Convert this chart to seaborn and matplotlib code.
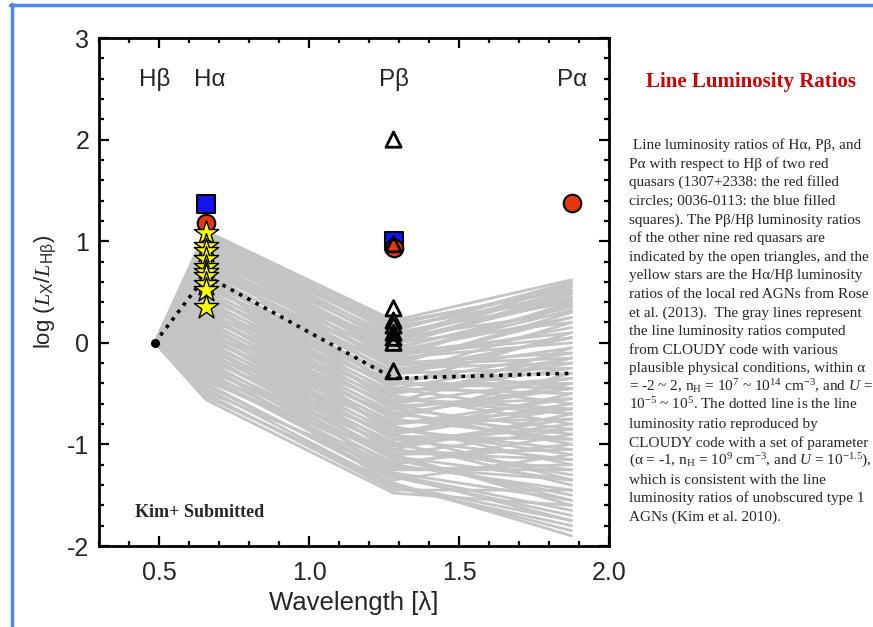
import numpy as np
import pandas as pd
import matplotlib
matplotlib.use("Agg")
import matplotlib.pyplot as plt
from matplotlib.lines import Line2D
from matplotlib.ticker import MultipleLocator
import seaborn as sns

# rest wavelengths (micron) of the four lines
line_names = ["Hβ", "Hα", "Pβ", "Pα"]
line_waves = [0.4861, 0.6563, 1.2818, 1.8751]

# CLOUDY model grid (log L/LHb), one entry per model
cloudy_ha = [1.10, 1.08, 1.05, 1.02, 1.00, 0.98, 0.95, 0.92, 0.90, 0.88,
             0.85, 0.82, 0.80, 0.78, 0.75, 0.72, 0.70, 0.68, 0.65, 0.62,
             0.60, 0.58, 0.55, 0.52, 0.50, 0.48, 0.45, 0.42, 0.40, 0.38,
             0.35, 0.32, 0.30, 0.28, 0.25, 0.22, 0.20, 0.18, 0.15, 0.12,
             0.10, 0.08, 0.05, 0.02, 0.00, -0.02, -0.05, -0.08, -0.10, -0.12,
             -0.15, -0.18, -0.20, -0.22, -0.25, -0.28, -0.30, -0.33, -0.36, -0.40,
             -0.45, -0.50, -0.53, -0.56,
             1.06, 1.03, 0.99, 0.96, 0.93, 0.91, 0.87, 0.84, 0.81, 0.77,
             0.74, 0.71, 0.66, 0.63, 0.57, 0.53, 0.47, 0.43, 0.37, 0.33,
             0.27, 0.23, 0.17, 0.13, 0.07, 0.03, -0.03, -0.07, -0.13, -0.17,
             -0.23, -0.27, -0.32, -0.38, -0.42, -0.48, -0.52, 0.60, 0.80, 0.40,
             0.20, 0.00, -0.20, 1.00]
cloudy_pb = [0.22, 0.18, 0.15, 0.10, 0.05, 0.12, 0.00, -0.05, 0.08, -0.10,
             -0.02, -0.15, -0.08, -0.20, -0.12, -0.25, -0.18, -0.30, -0.22, -0.35,
             -0.28, -0.40, -0.32, -0.45, -0.38, -0.50, -0.42, -0.55, -0.48, -0.60,
             -0.52, -0.65, -0.58, -0.70, -0.62, -0.75, -0.68, -0.80, -0.72, -0.85,
             -0.78, -0.90, -0.82, -0.95, -0.88, -1.00, -0.92, -1.05, -0.98, -1.10,
             -1.02, -1.15, -1.08, -1.20, -1.12, -1.25, -1.18, -1.30, -1.22, -1.35,
             -1.40, -1.45, -1.38, -1.48,
             0.20, 0.12, 0.16, 0.06, 0.02, -0.12, 0.04, -0.06, -0.22, 0.00,
             -0.30, -0.10, -0.40, -0.15, -0.45, -0.20, -0.55, -0.30, -0.65, -0.40,
             -0.75, -0.50, -0.85, -0.60, -0.95, -0.70, -1.05, -0.80, -1.12, -0.90,
             -1.20, -1.00, -1.28, -1.10, -1.32, -1.25, -1.42, -0.60, -0.45, -0.90,
             -1.10, -1.30, -1.40, -0.25]
cloudy_pa = [0.62, 0.55, 0.48, 0.40, 0.30, 0.58, 0.20, 0.35, 0.50, 0.10,
             0.45, 0.00, 0.25, -0.10, 0.38, -0.20, 0.15, -0.05, 0.30, -0.30,
             0.05, -0.45, 0.20, -0.15, -0.60, -0.25, 0.10, -0.70, -0.35, -0.05,
             -0.80, -0.45, -0.15, -0.90, -0.55, -0.30, -1.00, -0.65, -0.40, -1.10,
             -0.75, -0.50, -1.20, -0.85, -0.60, -1.30, -0.95, -0.70, -1.40, -1.05,
             -0.80, -1.50, -1.15, -0.90, -1.55, -1.25, -1.00, -1.65, -1.35, -1.10,
             -1.75, -1.45, -1.90, -1.60,
             0.52, 0.60, 0.44, 0.56, 0.42, 0.05, 0.52, 0.36, -0.15, 0.48,
             -0.25, 0.32, -0.40, 0.40, -0.50, 0.25, -0.65, 0.05, -0.85, -0.10,
             -0.95, -0.20, -1.05, -0.35, -1.15, -0.45, -1.25, -0.55, -1.35, -0.65,
             -1.45, -0.75, -1.55, -0.85, -1.70, -1.20, -1.80, -1.00, -0.70, -1.35,
             -1.60, -1.75, -1.85, -0.45]

# best-match CLOUDY model (dotted)
dotted_ratio = [0.0, 0.66, -0.35, -0.30]

# observed ratios
red_circle_waves = [0.6563, 1.2818, 1.8751]
red_circle_ratio = [1.18, 0.93, 1.38]
blue_square_waves = [0.6563, 1.2818]
blue_square_ratio = [1.37, 1.00]
triangle_ratio = [2.00, 0.97, 0.34, 0.22, 0.17, 0.10, 0.05, 0.00, -0.28]
star_ratio = [1.08, 0.95, 0.90, 0.82, 0.75, 0.70, 0.66, 0.58, 0.52, 0.35]

caption_title = "Line Luminosity Ratios"
caption_lines = [
    " Line luminosity ratios of Hα, Pβ, and",
    "Pα with respect to Hβ of two red",
    "quasars (1307+2338: the red filled",
    "circles; 0036-0113: the blue filled",
    "squares). The Pβ/Hβ luminosity ratios",
    "of the other nine red quasars are",
    "indicated by the open triangles, and the",
    "yellow stars are the Hα/Hβ luminosity",
    "ratios of the local red AGNs from Rose",
    "et al. (2013).  The gray lines represent",
    "the line luminosity ratios computed",
    "from CLOUDY code with various",
    "plausible physical conditions, within α",
    r"= -2 ~ 2, n$_{H}$ = 10$^{7}$ ~ 10$^{14}$ cm$^{-3}$, and $\mathit{U}$ =",
    r"10$^{-5}$ ~ 10$^{5}$. The dotted line is the line",
    "luminosity ratio reproduced by",
    "CLOUDY code with a set of parameter",
    r"(α = -1, n$_{H}$ = 10$^{9}$ cm$^{-3}$, and $\mathit{U}$ = 10$^{-1.5}$),",
    "which is consistent with the line",
    "luminosity ratios of unobscured type 1",
    "AGNs (Kim et al. 2010).",
]

# long-form table for seaborn
rows = []
for i in range(len(cloudy_ha)):
    vals = [0.0, cloudy_ha[i], cloudy_pb[i], cloudy_pa[i]]
    for w, v in zip(line_waves, vals):
        rows.append({"model": i, "wavelength": w, "ratio": v})
models = pd.DataFrame(rows)

sns.set_style("ticks")
plt.rcParams["font.family"] = ["Liberation Sans", "DejaVu Sans"]
plt.rcParams["mathtext.fontset"] = "custom"
plt.rcParams["mathtext.rm"] = "Liberation Serif"
plt.rcParams["mathtext.it"] = "Liberation Serif:italic"
plt.rcParams["mathtext.sf"] = "Liberation Sans"
plt.rcParams["mathtext.default"] = "regular"
plt.rcParams["axes.unicode_minus"] = False

fig = plt.figure(figsize=(8.73, 6.27), dpi=100)
ax = fig.add_axes([99 / 873, 1 - 546 / 627, 510 / 873, 508 / 627])

sns.lineplot(data=models, x="wavelength", y="ratio", units="model",
             estimator=None, sort=False, color="#c4c4c4", lw=2.0,
             legend=False, ax=ax, zorder=1)
ax.plot(line_waves, dotted_ratio, color="black", lw=2.6,
        linestyle=(0, (1, 1.6)), zorder=3)
ax.scatter([line_waves[0]], [0.0], s=30, color="black", zorder=4)

ax.scatter(blue_square_waves, blue_square_ratio, marker="s", s=150,
           color="#1414f0", edgecolor="black", lw=1.5, zorder=5)
ax.scatter(red_circle_waves, red_circle_ratio, marker="o", s=160,
           color="#e8360c", edgecolor="black", lw=1.5, zorder=6)
ax.scatter([line_waves[1]] * len(star_ratio), star_ratio, marker="*", s=340,
           color="#ffff00", edgecolor="black", lw=1.0, zorder=7)
ax.scatter([line_waves[2]] * len(triangle_ratio), triangle_ratio, marker="^",
           s=120, facecolor="none", edgecolor="black", lw=2.0, zorder=8)

label_x = [0.487, 0.668, 1.282, 1.877]
for name, lx in zip(line_names, label_x):
    ax.text(lx, 2.59, name, ha="center", va="center", fontsize=17.5)

ax.text(0.42, -1.675, "Kim+ Submitted", fontsize=13, fontweight="bold",
        family="Liberation Serif", va="center")

ax.set_xlim(0.3, 2.0)
ax.set_ylim(-2, 3)
ax.xaxis.set_major_locator(MultipleLocator(0.5))
ax.xaxis.set_minor_locator(MultipleLocator(0.1))
ax.yaxis.set_major_locator(MultipleLocator(1))
ax.yaxis.set_minor_locator(MultipleLocator(0.2))
ax.set_xticks([0.5, 1.0, 1.5, 2.0])
ax.set_xticklabels(["0.5", "1.0", "1.5", "2.0"])
ax.tick_params(which="both", direction="in", top=True, right=True,
               width=1.6, color="black", labelsize=18)
ax.tick_params(which="major", length=7)
ax.tick_params(which="minor", length=3.5)
ax.tick_params(axis="x", pad=11)
ax.tick_params(axis="y", pad=7)
for sp in ax.spines.values():
    sp.set_linewidth(2.0)
    sp.set_color("black")
ax.set_xlabel("Wavelength [λ]", fontsize=18.5, labelpad=4)
ax.set_ylabel(r"log ($\mathit{L}_{X}/\mathit{L}_{Hβ}$)", fontsize=16, labelpad=6)

# caption panel
fig.text(751 / 873, 1 - 82 / 627, caption_title, color="#cc0000",
         fontsize=15, fontweight="bold", family="Liberation Serif",
         ha="center", va="center")
for i, line in enumerate(caption_lines):
    fig.text(629 / 873, 1 - (149 + 18.6 * i) / 627, line, fontsize=11,
             family="Liberation Serif", ha="left", va="baseline")

# slide frame
frame = "#4a88f5"
fig.add_artist(Line2D([10 / 873, 1], [1 - 5 / 627, 1 - 5 / 627],
                      color=frame, lw=2.5, transform=fig.transFigure))
fig.add_artist(Line2D([12 / 873, 12 / 873], [0, 1 - 4 / 627],
                      color=frame, lw=2.5, transform=fig.transFigure))

fig.savefig("out.png", dpi=100)
